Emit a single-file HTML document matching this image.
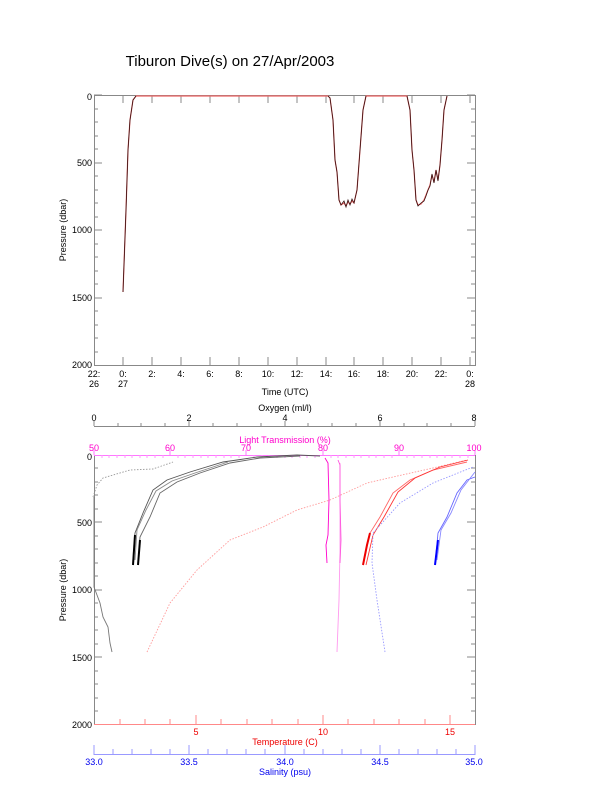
<!DOCTYPE html>
<html><head><meta charset="utf-8"><style>body{margin:0;background:#fff}svg{display:block}text{font-family:"Liberation Sans",sans-serif}</style></head><body>
<svg width="612" height="785" viewBox="0 0 612 785" xmlns="http://www.w3.org/2000/svg">
<rect width="612" height="785" fill="#fff"/>
<text x="230" y="66" font-size="15" text-anchor="middle">Tiburon Dive(s) on 27/Apr/2003</text>
<g stroke="#888" fill="none" stroke-width="1">
<rect x="94.5" y="95.5" width="381" height="270"/>
<path d="M94 109h4M94 122h4M94 136h4M94 149h4M94 163h8M94 176h4M94 190h4M94 203h4M94 217h4M94 230h8M94 244h4M94 257h4M94 271h4M94 284h4M94 298h8M94 311h4M94 325h4M94 338h4M94 352h4M94 95h8"/>
<path d="M475 109h-4M475 122h-4M475 136h-4M475 149h-4M475 163h-8M475 176h-4M475 190h-4M475 203h-4M475 217h-4M475 230h-8M475 244h-4M475 257h-4M475 271h-4M475 284h-4M475 298h-8M475 311h-4M475 325h-4M475 338h-4M475 352h-4M475 95h-8"/>
<path d="M123 365v-8M152 365v-8M181 365v-8M210 365v-8M239 365v-8M268 365v-8M297 365v-8M326 365v-8M354 365v-8M383 365v-8M412 365v-8M441 365v-8M470 365v-8M123 95v8M152 95v8M181 95v8M210 95v8M239 95v8M268 95v8M297 95v8M326 95v8M354 95v8M383 95v8M412 95v8M441 95v8M470 95v8"/>
</g>
<g font-size="9" text-anchor="end"><text x="92" y="100">0</text><text x="92" y="166">500</text><text x="92" y="233">1000</text><text x="92" y="301">1500</text><text x="92" y="368">2000</text></g>
<g font-size="9" text-anchor="middle">
<text x="94" y="377">22:</text><text x="94" y="387">26</text>
<text x="123" y="377">0:</text><text x="123" y="387">27</text>
<text x="152" y="377">2:</text><text x="181" y="377">4:</text><text x="210" y="377">6:</text><text x="239" y="377">8:</text><text x="268" y="377">10:</text><text x="297" y="377">12:</text><text x="326" y="377">14:</text><text x="354" y="377">16:</text><text x="383" y="377">18:</text><text x="412" y="377">20:</text><text x="441" y="377">22:</text>
<text x="470" y="377">0:</text><text x="470" y="387">28</text>
<text x="285" y="395">Time (UTC)</text>
</g>
<text transform="translate(66,230) rotate(-90)" font-size="9" text-anchor="middle">Pressure (dbar)</text>
<polyline fill="none" stroke="#e66" stroke-width="1.2" points="123,292 126,210 128,150 130,120 133,100 136,96 328,96 330,98 333,120 335,160 337,172 339,200 341,205 344,203 346,206 348,202 350,204 352,201 354,203 357,190 360,150 363,110 366,96 407,96 410,110 412,150 414,170 416,200 418,205 421,204 424,200 426,195 428,190 430,185 432,175 434,182 436,170 438,180 440,165 442,140 444,110 447,96"/>
<g fill="none" stroke="#311" stroke-width="0.8">
<polyline points="123,292 126,210 128,150 130,120 133,100 136,96"/>
<polyline points="328,96 330,98 333,120 335,160 337,172 339,200 341,205 344,201 346,207 348,200 350,205 352,199 354,203 357,190 360,150 363,110 366,96"/>
<polyline points="407,96 410,110 412,150 414,170 416,200 418,206 421,203 424,201 426,196 428,190 430,186 432,174 434,183 436,170 438,181 440,165 442,140 444,110 447,96"/>
</g>
<g fill="none" stroke-width="1">
<path stroke="#888" d="M94.5 455v270M475.5 455v270"/>
<path stroke="#888" d="M94 468h4M94 482h4M94 495h4M94 509h4M94 522h8M94 536h4M94 549h4M94 563h4M94 576h4M94 590h8M94 603h4M94 617h4M94 630h4M94 644h4M94 657h8M94 671h4M94 684h4M94 698h4M94 711h4M475 468h-4M475 482h-4M475 495h-4M475 509h-4M475 522h-8M475 536h-4M475 549h-4M475 563h-4M475 576h-4M475 590h-8M475 603h-4M475 617h-4M475 630h-4M475 644h-4M475 657h-8M475 671h-4M475 684h-4M475 698h-4M475 711h-4"/>
<path stroke="#f7f" d="M94 455.5h381M94 455v-5M475 455v-5M170 455v-5M246 455v-5M323 455v-5M399 455v-5"/>
<path stroke="#f9f" d="M102 455v3M109 455v3M117 455v3M125 455v3M132 455v3M140 455v3M147 455v3M155 455v3M163 455v3M178 455v3M185 455v3M193 455v3M201 455v3M208 455v3M216 455v3M224 455v3M231 455v3M239 455v3M254 455v3M262 455v3M269 455v3M277 455v3M285 455v3M292 455v3M300 455v3M307 455v3M315 455v3M331 455v3M338 455v3M346 455v3M354 455v3M361 455v3M369 455v3M376 455v3M384 455v3M392 455v3M407 455v3M414 455v3M422 455v3M430 455v3M437 455v3M445 455v3M452 455v3M460 455v3M468 455v3"/>
<path stroke="#888" d="M94 426.5h381M94 426v-5M189 426v-5M285 426v-5M380 426v-5M475 426v-5M118 426v-3M141 426v-3M165 426v-3M213 426v-3M237 426v-3M261 426v-3M308 426v-3M332 426v-3M356 426v-3M404 426v-3M427 426v-3M451 426v-3"/>
<path stroke="#f88" d="M94 724.5h381M196 725v-10M323 725v-10M450 725v-10M120 725v-6M145 725v-6M170 725v-6M221 725v-6M247 725v-6M272 725v-6M298 725v-6M348 725v-6M374 725v-6M399 725v-6M425 725v-6"/>
<path stroke="#99f" d="M94 754.5h381M94 755v-10M189 755v-10M285 755v-10M380 755v-10M475 755v-10M113 755v-6M132 755v-6M151 755v-6M170 755v-6M208 755v-6M227 755v-6M246 755v-6M265 755v-6M304 755v-6M323 755v-6M342 755v-6M361 755v-6M399 755v-6M418 755v-6M437 755v-6M456 755v-6"/>
</g>
<g font-size="9" text-anchor="middle">
<text x="94" y="421">0</text><text x="189" y="421">2</text><text x="285" y="421">4</text><text x="380" y="421">6</text><text x="474" y="421">8</text>
<text x="285" y="411">Oxygen (ml/l)</text>
<g fill="#f0c"><text x="94" y="451">50</text><text x="170" y="451">60</text><text x="246" y="451">70</text><text x="323" y="451">80</text><text x="399" y="451">90</text><text x="474" y="451">100</text><text x="285" y="443">Light Transmission (%)</text></g>
<g fill="#e00"><text x="196" y="735">5</text><text x="323" y="735">10</text><text x="450" y="735">15</text><text x="285" y="745">Temperature (C)</text></g>
<g fill="#00e"><text x="94" y="765">33.0</text><text x="189" y="765">33.5</text><text x="285" y="765">34.0</text><text x="380" y="765">34.5</text><text x="474" y="765">35.0</text><text x="285" y="775">Salinity (psu)</text></g>
</g>
<g font-size="9" text-anchor="end"><text x="92" y="460">0</text><text x="92" y="526">500</text><text x="92" y="593">1000</text><text x="92" y="661">1500</text><text x="92" y="728">2000</text></g>
<text transform="translate(66,590) rotate(-90)" font-size="9" text-anchor="middle">Pressure (dbar)</text>
<g fill="none" stroke-width="0.9">
<polyline stroke="#999" stroke-dasharray="1.5 1.5" points="93,497 97,485 103,478 130,470 153,469 173,462"/>
<polyline stroke="#777" points="94,497 94,587 100,603 103,617 108,627 110,643 112,652"/>
<polyline stroke="#555" points="133,565 135,533 143,513 153,490 167,480 190,472 223,462 237,460 257,457 297,455 320,456"/>
<polyline stroke="#666" points="138,565 140,537 150,517 160,493 177,482 200,473 230,463 260,458 300,456"/>
<polyline stroke="#888" points="135,560 137,530 146,510 156,491 172,481 195,473 228,462"/>
<polyline stroke="#000" stroke-width="2" points="133,565 135,535"/>
<polyline stroke="#000" stroke-width="2" points="138,565 140,540"/>
<polyline stroke="#f99" stroke-dasharray="1.5 1.5" points="147,652 170,603 197,570 230,540 263,527 297,510 330,500 367,483 393,477 433,468 467,460"/>
<polyline stroke="#f9e" points="337,652 339,600 340,550 340,463"/>
<polyline stroke="#f0c" points="327,563 326,545 328,535 329,500 328,463 325,458"/>
<polyline stroke="#f5d" points="340,563 341,540 340,500 340,465 338,460"/>
<polyline stroke="#f66" points="363,565 370,533 380,517 393,493 410,480 433,470 467,462"/>
<polyline stroke="#f33" points="366,565 373,535 384,517 398,492 415,478 440,467 468,460"/>
<polyline stroke="#e00" stroke-width="2" points="363,565 367,545 370,533"/>
<polyline stroke="#99f" stroke-dasharray="1.5 1.5" points="385,652 377,600 372,563 373,533 400,503 433,483 473,467"/>
<polyline stroke="#66f" points="435,565 438,533 447,517 457,493 467,480 475,477"/>
<polyline stroke="#88f" points="437,560 441,530 451,513 461,490 475,472"/>
<polyline stroke="#00f" stroke-width="2" points="435,565 438,540"/>
</g>
</svg>
</body></html>
